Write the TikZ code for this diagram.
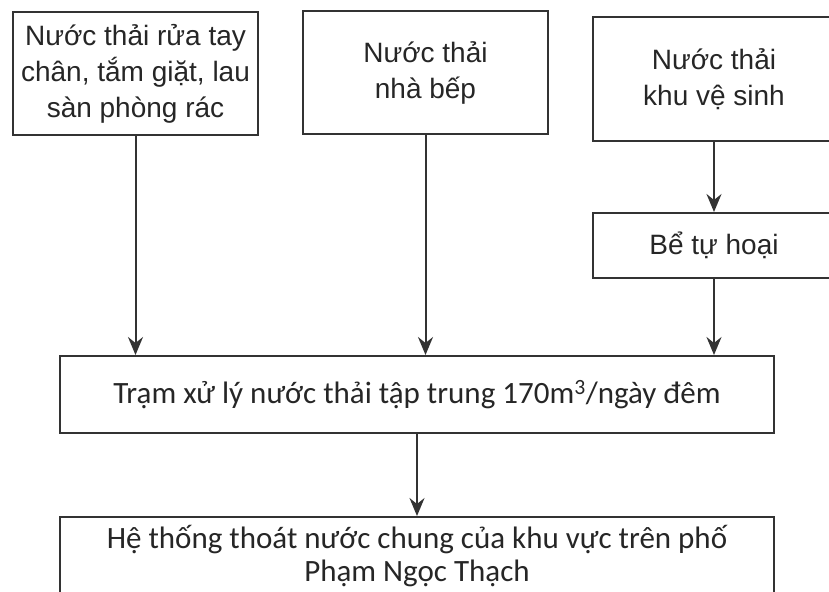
\documentclass[tikz,border=0pt]{standalone}
\usepackage{fontspec}
\newfontfamily\arialf{Liberation Sans}
\newfontfamily\calf{Carlito}
\usetikzlibrary{arrows.meta}
\definecolor{ink}{HTML}{262626}
\definecolor{linec}{HTML}{333333}
\tikzset{
  topbox/.style={draw=linec, line width=2pt, inner sep=0pt, align=center,
    text=ink, font=\arialf\fontsize{28}{36}\selectfont},
  widebox/.style={draw=linec, line width=2pt, inner sep=0pt, align=center,
    text=ink, font=\calf\fontsize{31}{33}\selectfont,
    minimum width=714pt},
  arr/.style={draw=linec, line width=2pt,
    -{Stealth[length=18pt, width=15pt, inset=6pt]}}
}
\begin{document}
\begin{tikzpicture}[x=1pt, y=-1pt]
\useasboundingbox (0,0) rectangle (829,591);
\fill[white] (0,0) rectangle (829,591);
\node[topbox, minimum width=245pt, minimum height=123pt] (a) at (135.5,73.5)
  {Nước thải rửa tay\\chân, tắm giặt, lau\\sàn phòng rác};
\node[topbox, minimum width=245pt, minimum height=123pt] (b) at (425.5,72.5)
  {Nước thải\\nhà bếp};
\node[topbox, minimum width=242pt, minimum height=124pt] (c) at (714,79)
  {Nước thải\\khu vệ sinh};
\node[topbox, minimum width=242pt, minimum height=65pt] (be) at (714,245.5)
  {Bể tự hoại};
\node[widebox, minimum height=77pt] (tram) at (417,394.5)
  {Trạm xử lý nước thải tập trung 170m\textsuperscript{3}/ngày đêm};
\node[widebox, minimum height=78pt] (he) at (417,556)
  {Hệ thống thoát nước chung của khu vực trên phố\\Phạm Ngọc Thạch};
\draw[arr] (a.south) -- (a.south |- tram.north);
\draw[arr] (b.south) -- (b.south |- tram.north);
\draw[arr] (c.south) -- (be.north);
\draw[arr] (be.south) -- (be.south |- tram.north);
\draw[arr] (tram.south) -- (he.north);
\end{tikzpicture}
\end{document}
